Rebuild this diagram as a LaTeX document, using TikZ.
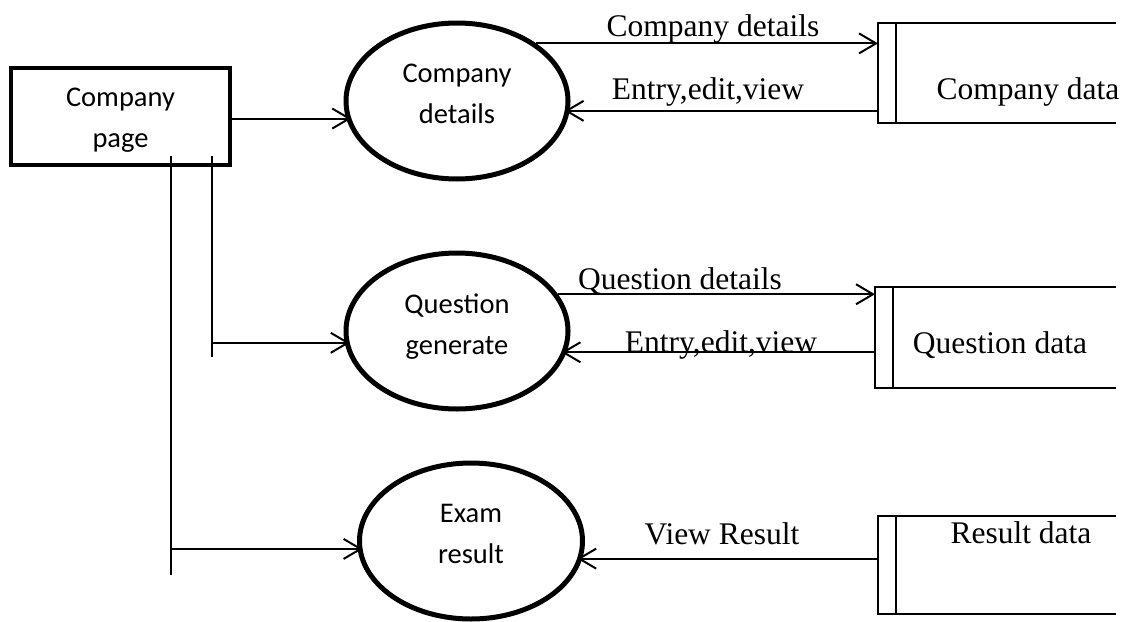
\documentclass[tikz,border=0pt]{standalone}
\usepackage{fontspec}
\setmainfont{Liberation Serif}
\newfontfamily\carlito{Carlito}
\usetikzlibrary{shapes.geometric,arrows.meta}

\newcommand{\procfont}{\carlito\fontsize{28.5}{41}\selectfont}
\newcommand{\flowfont}{\fontsize{31.5}{36}\selectfont}

\tikzset{
  process/.style={ellipse, draw, line width=5pt, minimum width=222pt,
    minimum height=156pt, inner sep=0pt, align=center, font=\procfont,
    text depth=14pt},
  entity/.style={rectangle, draw, line width=4pt, minimum width=219pt,
    minimum height=97pt, inner sep=0pt, align=center, font=\procfont,
    text height=67pt},
  store/.style={rectangle, inner sep=0pt, outer sep=0pt},
  wire/.style={line width=2pt},
  flow/.style={line width=2pt, -{Straight Barb[length=17pt,width=20pt]}},
  flowlabel/.style={font=\flowfont, anchor=base, inner sep=0pt},
}

\begin{document}
\begin{tikzpicture}[x=1pt, y=-1pt]
\useasboundingbox (0,0) rectangle (1126,621);

% External entity
\node[entity] (cpage) at (120.5,116.5) {Company\\page};

% Processes
\node[process] (cdet) at (457,101) {Company\\details};
\node[process] (qgen) at (457,331) {Question\\generate};
\node[process, minimum width=223pt] (exam) at (471,541) {Exam\\result};

% Data stores
\node[store, minimum width=238pt, minimum height=100pt] (cdata) at (997,73) {};
\node[store, minimum width=241pt, minimum height=101pt] (qdata) at (995.5,337.5) {};
\node[store, minimum width=238pt, minimum height=98pt] (rdata) at (997,565) {};
\foreach \s in {cdata,qdata,rdata}{
  \draw[wire] (\s.north east) -- (\s.north west) -- (\s.south west) -- (\s.south east);
  \draw[wire] ([xshift=18pt]\s.north west) -- ([xshift=18pt]\s.south west);
}
\node[flowlabel] (cdatatext) at (1028,99) {Company data};
\node[flowlabel] (qdatatext) at (1000,353) {Question data};
\node[flowlabel] (rdatatext) at (1021,543) {Result data};

% Lines down from the entity
\coordinate (trunkA) at (171,156);
\coordinate (trunkAend) at (171,575);
\coordinate (trunkB) at (212,156);
\coordinate (trunkBend) at (212,357);
\draw[wire] (trunkA) -- (trunkAend);
\draw[wire] (trunkB) -- (trunkBend);

% Flows into the processes
\draw[flow, shorten >=-5pt] (cpage.east |- cdet.189.2) -- (cdet.189.2);
\draw[flow, shorten >=-5pt] (trunkB |- qgen.186.1) -- (qgen.186.1);
\draw[flow, shorten >=-5pt] (trunkA |- exam.184) -- (exam.184);

% Flows to and from the stores
\draw[flow] (cdet.36.4) -- (cdet.36.4 -| cdata.west);
\draw[flow, shorten >=-5pt] (cdata.west |- cdet.-5.1) -- (cdet.-5.1);
\draw[flow] (qgen.20.8) -- (qgen.20.8 -| qdata.west);
\draw[flow, shorten >=-5pt] (qdata.west |- qgen.-11.4) -- (qgen.-11.4);
\draw[flow, shorten >=-5pt] (rdata.west |- exam.-9.7) -- (exam.-9.7);

% Flow labels
\node[flowlabel] (cdetflow) at (713,36) {Company details};
\node[flowlabel] (cdetback) at (708,99) {Entry,edit,view};
\node[flowlabel] (qgenflow) at (680,289) {Question details};
\node[flowlabel] (qgenback) at (721,352) {Entry,edit,view};
\node[flowlabel] (examback) at (722,544) {View Result};

\end{tikzpicture}
\end{document}
